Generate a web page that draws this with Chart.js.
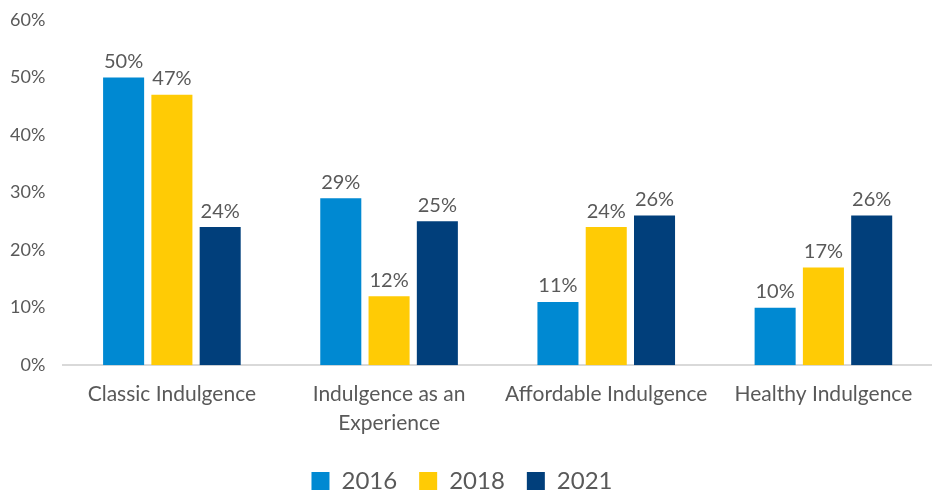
<!DOCTYPE html>
<html>
<head>
<meta charset="utf-8">
<script src="https://cdn.jsdelivr.net/npm/chart.js@4.4.1/dist/chart.umd.min.js"></script>
<style>
  html, body { margin: 0; padding: 0; background: #fff; }
  #wrap { width: 932px; height: 493px; }
</style>
</head>
<body>
<div id="wrap"><canvas id="barChart"></canvas></div>
<script>
const categories = ['Classic Indulgence', ['Indulgence as an', 'Experience'], 'Affordable Indulgence', 'Healthy Indulgence'];
const years = ['2016', '2018', '2021'];
const values2016 = [50, 29, 11, 10];
const values2018 = [47, 12, 24, 17];
const values2021 = [24, 25, 26, 26];
const yTicks = [0, 10, 20, 30, 40, 50, 60];

const textGrey = '#595959';
const fontFamily = 'Lato, "Open Sans", sans-serif';

// draws the % label above each bar
const barLabels = {
  id: 'barLabels',
  afterDatasetsDraw(chart) {
    const ctx = chart.ctx;
    ctx.save();
    ctx.font = '20px ' + fontFamily;
    ctx.fillStyle = textGrey;
    ctx.textAlign = 'center';
    ctx.textBaseline = 'bottom';
    chart.data.datasets.forEach((ds, i) => {
      chart.getDatasetMeta(i).data.forEach((bar, j) => {
        ctx.fillText(ds.data[j] + '%', bar.x, bar.y - 6);
      });
    });
    ctx.restore();
  }
};

const ctx = document.getElementById('barChart').getContext('2d');
const barChart = new Chart(ctx, {
  type: 'bar',
  data: {
    labels: categories,
    datasets: [
      { label: years[0], data: values2016, backgroundColor: '#0089d2' },
      { label: years[1], data: values2018, backgroundColor: '#ffcb05' },
      { label: years[2], data: values2021, backgroundColor: '#013f7b' }
    ]
  },
  options: {
    responsive: true,
    maintainAspectRatio: false,
    animation: false,
    layout: { autoPadding: false, padding: { left: -8, right: 0, top: 20, bottom: -10 } },
    datasets: {
      bar: { categoryPercentage: 0.667, barPercentage: 0.85 }
    },
    scales: {
      x: {
        grid: { display: false, drawTicks: false },
        border: { display: true, color: '#d9d9d9', width: 2 },
        afterFit(scale) { scale.height -= 5; },
        ticks: {
          color: textGrey,
          font: { family: fontFamily, size: 21, lineHeight: 1.4 },
          padding: 14
        }
      },
      y: {
        min: 0,
        max: 60,
        afterBuildTicks(axis) {
          axis.ticks = yTicks.map(v => ({ value: v }));
        },
        afterFit(scale) { scale.paddingTop = 0; },
        grid: { display: false, drawTicks: false },
        border: { display: false },
        ticks: {
          color: textGrey,
          font: { family: fontFamily, size: 18 },
          padding: 18,
          callback: v => v + '%'
        }
      }
    },
    plugins: {
      tooltip: { enabled: false },
      legend: {
        position: 'bottom',
        labels: {
          color: textGrey,
          boxWidth: 18,
          boxHeight: 18,
          padding: 22,
          font: { family: fontFamily, size: 24 }
        }
      }
    }
  },
  plugins: [barLabels]
});
</script>
</body>
</html>
